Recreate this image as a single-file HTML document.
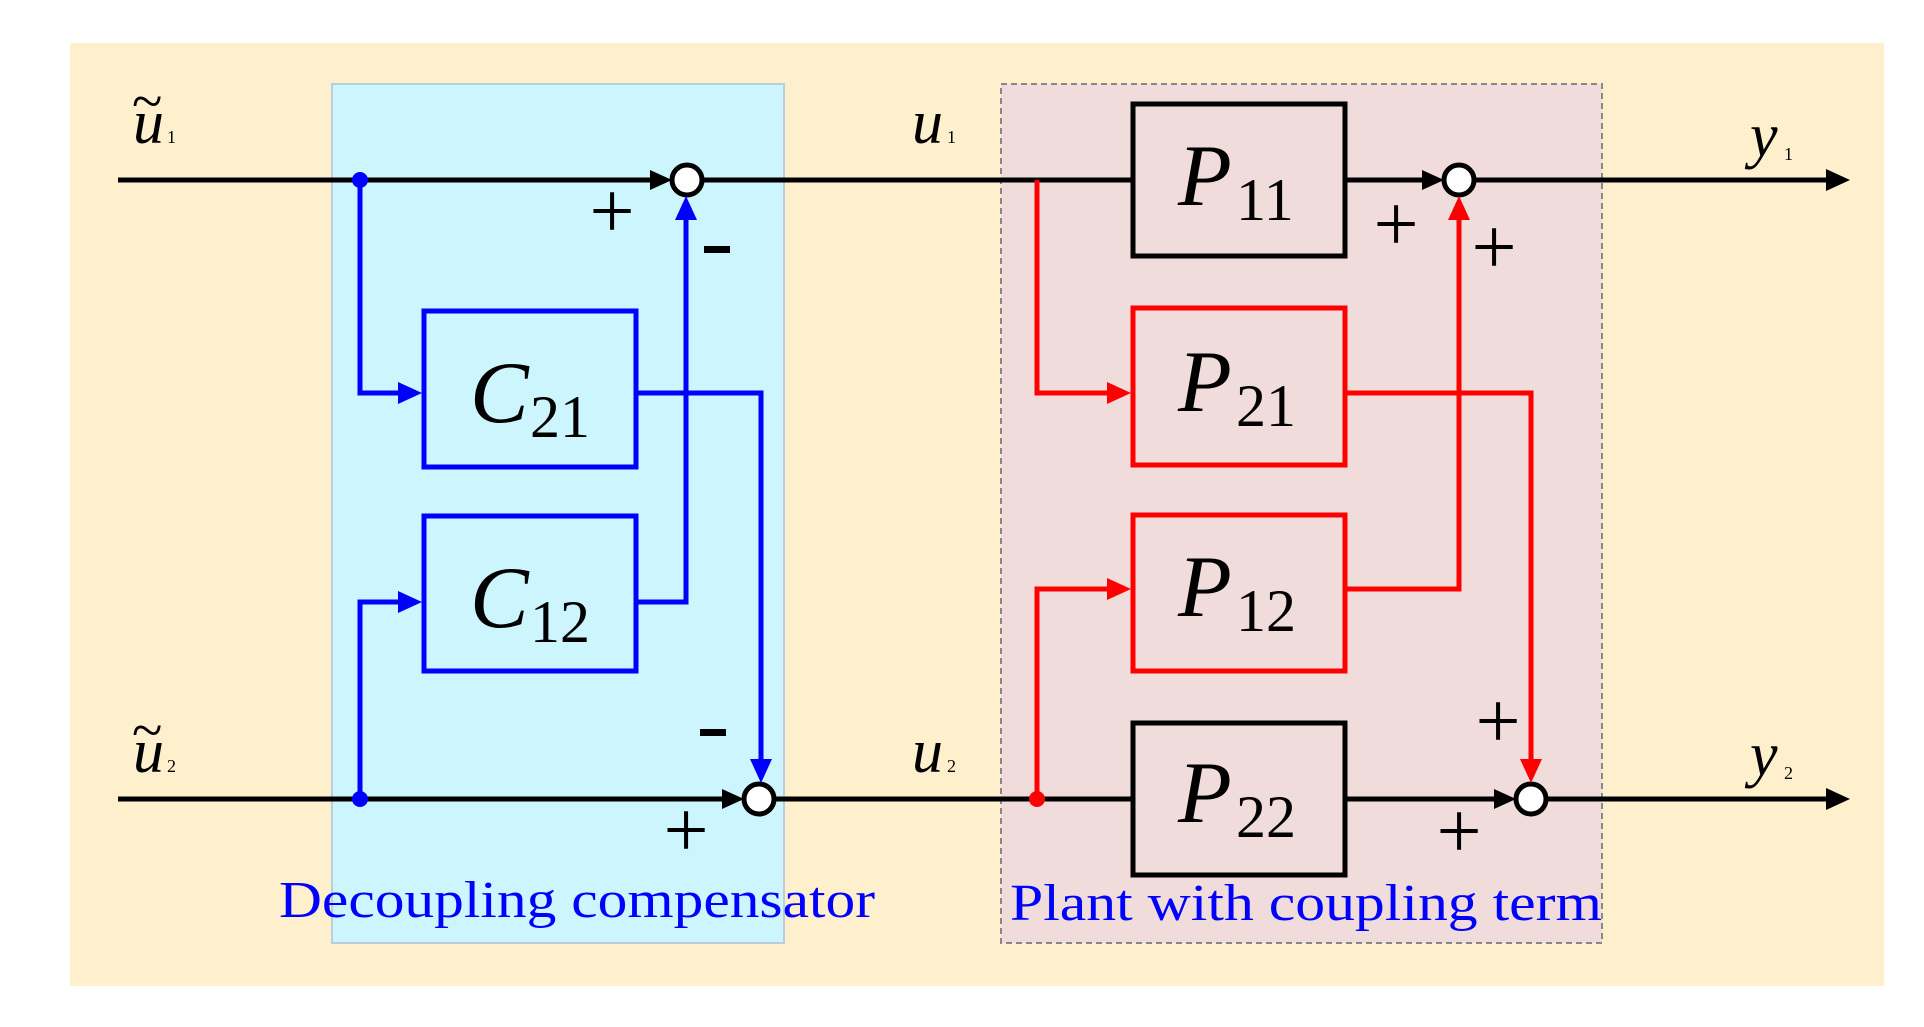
<!DOCTYPE html>
<html><head><meta charset="utf-8"><style>
html,body{margin:0;padding:0;background:#fff;}
svg{display:block;}
text{font-family:"Liberation Serif",serif;}
</style></head><body>
<svg width="1924" height="1027" viewBox="0 0 1924 1027" xmlns="http://www.w3.org/2000/svg">
<rect x="70" y="43" width="1814" height="943" fill="#fef0cd"/>
<rect x="332" y="84" width="452" height="859" fill="#ccf5fd" stroke="#bcd" stroke-width="2"/>
<rect x="1001" y="84" width="601" height="859" fill="#f0dcda" stroke="#888" stroke-width="2" stroke-dasharray="6,4"/>

<g stroke="#000" stroke-width="5" fill="none">
<line x1="118" y1="180" x2="660" y2="180"/>
<line x1="703" y1="180" x2="1133" y2="180"/>
<line x1="1345" y1="180" x2="1432" y2="180"/>
<line x1="1476" y1="180" x2="1830" y2="180"/>
<line x1="118" y1="799" x2="733" y2="799"/>
<line x1="776" y1="799" x2="1133" y2="799"/>
<line x1="1345" y1="799" x2="1505" y2="799"/>
<line x1="1548" y1="799" x2="1830" y2="799"/>
<rect x="1133" y="104" width="212" height="152"/>
<rect x="1133" y="723" width="212" height="152"/>
<circle cx="687" cy="180" r="15" fill="#fff"/>
<circle cx="759" cy="799" r="15" fill="#fff"/>
<circle cx="1459" cy="180" r="15" fill="#fff"/>
<circle cx="1531" cy="799" r="15" fill="#fff"/>
</g>
<g fill="#000">
<path d="M672,180 L650,170 L650,190z"/>
<path d="M744,799 L722,789 L722,809z"/>
<path d="M1444,180 L1422,170 L1422,190z"/>
<path d="M1516,799 L1494,789 L1494,809z"/>
<path d="M1850,180 L1826,169 L1826,191z"/>
<path d="M1850,799 L1826,788 L1826,810z"/>
</g>

<g stroke="#0000ff" stroke-width="5" fill="none">
<polyline points="360,180 360,393 400,393"/>
<polyline points="360,799 360,602 400,602"/>
<rect x="424" y="311" width="212" height="156"/>
<rect x="424" y="516" width="212" height="155"/>
<polyline points="636,393 761,393 761,760"/>
<polyline points="636,602 686,602 686,220"/>
</g>
<g fill="#0000ff">
<circle cx="360" cy="180" r="8"/><circle cx="360" cy="799" r="8"/>
<path d="M422,393 L398,382 L398,404z"/>
<path d="M422,602 L398,591 L398,613z"/>
<path d="M761,783 L750,759 L772,759z"/>
<path d="M686,196 L675,220 L697,220z"/>
</g>

<g stroke="#ff0000" stroke-width="5" fill="none">
<polyline points="1037,180 1037,393 1110,393"/>
<polyline points="1037,799 1037,589 1110,589"/>
<rect x="1133" y="308" width="212" height="157"/>
<rect x="1133" y="515" width="212" height="156"/>
<polyline points="1345,393 1531,393 1531,760"/>
<polyline points="1345,589 1459,589 1459,220"/>
</g>
<g fill="#ff0000">
<circle cx="1037" cy="799" r="8"/>
<path d="M1131,393 L1107,382 L1107,404z"/>
<path d="M1131,589 L1107,578 L1107,600z"/>
<path d="M1531,783 L1520,759 L1542,759z"/>
<path d="M1459,196 L1448,220 L1470,220z"/>
</g>

<g font-size="88" font-style="italic" fill="#000">
<text x="470" y="422">C</text><text x="470" y="627">C</text>
<text x="1178" y="205">P</text><text x="1178" y="411">P</text><text x="1178" y="616">P</text><text x="1178" y="822">P</text>
</g>
<g font-size="60" fill="#000">
<text x="530" y="437">21</text><text x="530" y="642">12</text>
<text x="1236" y="220">11</text><text x="1236" y="426">21</text><text x="1236" y="631">12</text><text x="1236" y="837">22</text>
</g>

<g font-size="62" font-style="italic" fill="#000">
<text x="133" y="143">u</text><text x="133" y="772">u</text>
<text x="912" y="143">u</text><text x="912" y="772">u</text>
<text x="1750" y="156">y</text><text x="1750" y="775">y</text>
</g>
<g font-size="56" fill="#000">
<text x="132" y="120">~</text><text x="132" y="749">~</text>
</g>
<g font-size="18" fill="#000">
<text x="167" y="143">1</text><text x="167" y="772">2</text>
<text x="947" y="143">1</text><text x="947" y="772">2</text>
<text x="1784" y="160">1</text><text x="1784" y="779">2</text>
</g>

<g font-size="80" fill="#000" text-anchor="middle">
<text x="612" y="238">+</text>
<text x="686" y="857">+</text>
<text x="1396" y="251">+</text>
<text x="1494" y="274">+</text>
<text x="1498" y="748">+</text>
<text x="1459" y="858">+</text>
</g>
<rect x="704" y="246" width="26" height="7" fill="#000"/>
<rect x="700" y="729" width="26" height="7" fill="#000"/>

<text x="279" y="917" font-size="52" fill="#0000ff" textLength="596" lengthAdjust="spacingAndGlyphs">Decoupling compensator</text>
<text x="1010" y="920" font-size="52" fill="#0000ff" textLength="592" lengthAdjust="spacingAndGlyphs">Plant with coupling term</text>
</svg>
</body></html>
